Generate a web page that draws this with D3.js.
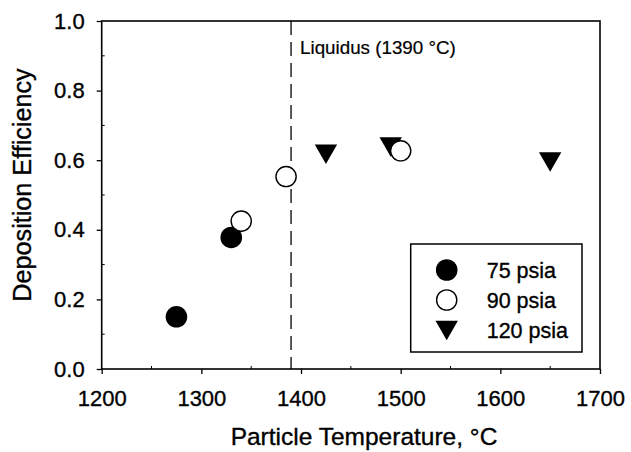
<!DOCTYPE html>
<html>
<head>
<meta charset="utf-8">
<script src="https://cdn.jsdelivr.net/npm/d3@7"></script>
<style>
  html, body { margin: 0; padding: 0; background: #fff; }
  svg { display: block; font-family: "Liberation Sans", Arial, Helvetica, sans-serif; }
  text { stroke: #000; stroke-width: 0.35px; }
</style>
</head>
<body>
<svg id="chart" width="631" height="452"></svg>
<script>
// Deposition efficiency vs. particle temperature at three spray pressures
const temp75 = [1275, 1330];
const eff75 = [0.15, 0.378];
const temp90 = [1340, 1385, 1500];
const eff90 = [0.425, 0.553, 0.627];
const temp120 = [1425, 1490, 1650];
const eff120 = [0.617, 0.638, 0.595];
const legendLabels = ["75 psia", "90 psia", "120 psia"];
const xTicks = [1200, 1300, 1400, 1500, 1600, 1700];
const yTicks = [0.0, 0.2, 0.4, 0.6, 0.8, 1.0];
const xMinor = [1250, 1350, 1450, 1550, 1650];
const yMinor = [0.1, 0.3, 0.5, 0.7, 0.9];
const liquidusTemp = 1390;
const liquidusLabel = "Liquidus (1390 °C)";
const xTitle = "Particle Temperature, °C";
const yTitle = "Deposition Efficiency";

const svg = d3.select("#chart");
const plotL = 101.7, plotR = 600, plotT = 21, plotB = 369;

const x = d3.scaleLinear().domain([1200, 1700]).range([plotL, plotR]);
const y = d3.scaleLinear().domain([0, 1]).range([plotB, plotT]);

const ink = "#000";
const R = 10.8;

// down-pointing triangle centred on (cx, cy)
function triPath(cx, cy) {
  const w = 11.2, h = 9.8;
  return `M${cx - w},${cy - h}L${cx + w},${cy - h}L${cx},${cy + h}Z`;
}

// plot frame
svg.append("rect")
  .attr("x", plotL).attr("y", plotT)
  .attr("width", plotR - plotL).attr("height", plotB - plotT)
  .attr("fill", "none").attr("stroke", ink).attr("stroke-width", 1.6);

// bottom axis
const xAxis = svg.append("g").attr("transform", `translate(0,${plotB})`)
  .call(d3.axisBottom(x).tickValues(xTicks).tickFormat(d3.format("d")).tickSize(5).tickPadding(16));
xAxis.select(".domain").remove();
xAxis.selectAll("line").attr("stroke", ink).attr("stroke-width", 1.3);
xAxis.selectAll("text").attr("font-size", 22).attr("fill", ink);

// left axis
const yAxis = svg.append("g").attr("transform", `translate(${plotL},0)`)
  .call(d3.axisLeft(y).tickValues(yTicks).tickFormat(d3.format(".1f")).tickSize(5).tickPadding(12));
yAxis.select(".domain").remove();
yAxis.selectAll("line").attr("stroke", ink).attr("stroke-width", 1.3);
yAxis.selectAll("text").attr("font-size", 22).attr("fill", ink);

// minor ticks pointing inward
svg.append("g").selectAll("line").data(xMinor).join("line")
  .attr("x1", d => x(d)).attr("x2", d => x(d))
  .attr("y1", plotB).attr("y2", plotB - 3)
  .attr("stroke", ink).attr("stroke-width", 1);
svg.append("g").selectAll("line").data(yMinor).join("line")
  .attr("x1", plotL).attr("x2", plotL + 3)
  .attr("y1", d => y(d)).attr("y2", d => y(d))
  .attr("stroke", ink).attr("stroke-width", 1);

// liquidus reference line
svg.append("line")
  .attr("x1", x(liquidusTemp)).attr("x2", x(liquidusTemp))
  .attr("y1", plotT).attr("y2", plotB)
  .attr("stroke", ink).attr("stroke-width", 1.3)
  .attr("stroke-dasharray", "14,7");
svg.append("text")
  .attr("x", x(liquidusTemp) + 9).attr("y", 54)
  .attr("font-size", 18.8).attr("fill", ink)
  .style("stroke-width", "0.2px")
  .text(liquidusLabel);

// axis titles
svg.append("text")
  .attr("x", 364).attr("y", 445)
  .attr("text-anchor", "middle").attr("font-size", 24.5).attr("fill", ink)
  .text(xTitle);
svg.append("text")
  .attr("transform", `translate(31,185) rotate(-90)`)
  .attr("text-anchor", "middle").attr("font-size", 25.2).attr("fill", ink)
  .text(yTitle);

const s75 = temp75.map((t, i) => ({ t, e: eff75[i] }));
const s90 = temp90.map((t, i) => ({ t, e: eff90[i] }));
const s120 = temp120.map((t, i) => ({ t, e: eff120[i] }));

// 75 psia (filled circles)
svg.append("g").selectAll("circle").data(s75).join("circle")
  .attr("cx", d => x(d.t)).attr("cy", d => y(d.e)).attr("r", R)
  .attr("fill", ink);

// 120 psia (filled down-triangles)
svg.append("g").selectAll("path").data(s120).join("path")
  .attr("d", d => triPath(x(d.t), y(d.e)))
  .attr("fill", ink);

// 90 psia (open circles)
svg.append("g").selectAll("circle").data(s90).join("circle")
  .attr("cx", d => x(d.t)).attr("cy", d => y(d.e)).attr("r", R - 0.7)
  .attr("fill", "#fff").attr("stroke", ink).attr("stroke-width", 1.4);

// legend
const lg = svg.append("g");
lg.append("rect")
  .attr("x", 410.7).attr("y", 244).attr("width", 171.3).attr("height", 108)
  .attr("fill", "#fff").attr("stroke", ink).attr("stroke-width", 1.5);
const rowsY = [270, 300, 330.5];
lg.append("circle").attr("cx", 446.7).attr("cy", rowsY[0]).attr("r", R).attr("fill", ink);
lg.append("circle").attr("cx", 446.7).attr("cy", rowsY[1]).attr("r", R - 0.7)
  .attr("fill", "#fff").attr("stroke", ink).attr("stroke-width", 1.4);
lg.append("path").attr("d", triPath(446.7, rowsY[2])).attr("fill", ink);
lg.selectAll("text.lbl").data(legendLabels).join("text")
  .attr("class", "lbl")
  .attr("x", 486.7).attr("y", (d, i) => rowsY[i] + 7.5)
  .attr("font-size", 21.5).attr("fill", ink)
  .text(d => d);
</script>
</body>
</html>
